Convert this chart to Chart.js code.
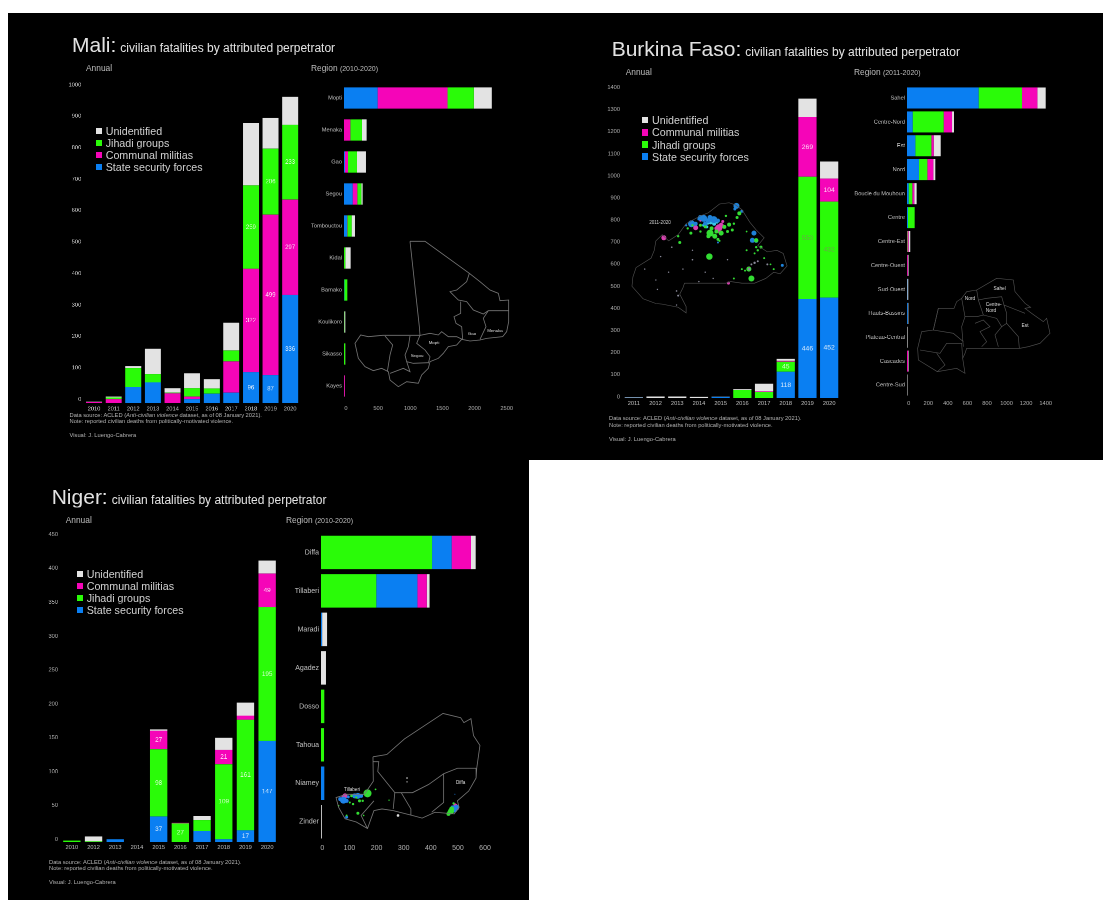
<!DOCTYPE html>
<html lang="en">

<head>
    <meta charset="UTF-8">
    <title>Civilian fatalities by attributed perpetrator</title>
    <script src="https://cdn.jsdelivr.net/npm/chart.js"></script>
    <style>
        html, body { margin: 0; padding: 0; background: #fff; overflow: hidden; }
        #page { position: relative; width: 1103px; height: 900px; font-family: "Liberation Sans", Arial, sans-serif; filter: blur(0.55px); }
        .panel { position: absolute; background: #000; }
        .txt { position: absolute; white-space: nowrap; line-height: 1; transform: translateY(-50%); color: #bdbdbd; will-change: opacity; }
        .box { position: absolute; }
        canvas { position: absolute; }
    </style>
</head>

<body>
    <div id="page">
        <div class="panel" style="left:8px;top:13px;width:1095px;height:447px"></div>
        <div class="panel" style="left:8px;top:460px;width:521px;height:440px"></div>
    </div>

    <script>
        // perpetrators
        const seriesNames = { s: 'State security forces', m: 'Communal militias', j: 'Jihadi groups', u: 'Unidentified' };
        const seriesColors = { s: '#0a7ff2', m: '#f505b8', j: '#2afb08', u: '#e3e3e3' };

        // Mali, annual
        const maliYears = ['2010', '2011', '2012', '2013', '2014', '2015', '2016', '2017', '2018', '2019', '2020'];
        const maliTicks = [0, 100, 200, 300, 400, 500, 600, 700, 800, 900, 1000];
        const maliState = [0, 0, 50, 64, 0, 12, 29, 32, 96, 87, 336];
        const maliCommunal = [3, 12, 0, 0, 30, 8, 0, 97, 322, 499, 297];
        const maliJihadi = [0, 5, 59, 26, 2, 26, 16, 34, 259, 206, 233];
        const maliUnknown = [1, 3, 6, 79, 14, 46, 29, 87, 194, 95, 87];
        // Mali, by region
        const maliRegions = ['Mopti', 'Menaka', 'Gao', 'Segou', 'Tombouctou', 'Kidal', 'Bamako', 'Koulikoro', 'Sikasso', 'Kayes'];
        const maliRegTicks = [0, 500, 1000, 1500, 2000, 2500];
        const maliRegState = [505, 0, 15, 130, 45, 0, 5, 0, 0, 0];
        const maliRegCommunal = [1050, 95, 45, 70, 5, 0, 0, 0, 0, 12];
        const maliRegJihadi = [395, 175, 135, 60, 65, 20, 45, 5, 18, 0];
        const maliRegUnknown = [270, 70, 135, 20, 50, 80, 0, 15, 3, 3];

        // Burkina Faso, annual
        const bfYears = ['2011', '2012', '2013', '2014', '2015', '2016', '2017', '2018', '2019', '2020'];
        const bfTicks = [0, 100, 200, 300, 400, 500, 600, 700, 800, 900, 1000, 1100, 1200, 1300, 1400];
        const bfState = [1, 0, 0, 0, 5, 0, 0, 118, 446, 452];
        const bfJihadi = [0, 0, 0, 0, 0, 36, 27, 45, 550, 432];
        const bfCommunal = [0, 0, 0, 0, 0, 0, 3, 4, 269, 104];
        const bfUnknown = [3, 7, 7, 5, 1, 4, 34, 9, 83, 77];
        // Burkina Faso, by region
        const bfRegions = ['Sahel', 'Centre-Nord', 'Est', 'Nord', 'Boucle du Mouhoun', 'Centre', 'Centre-Est', 'Centre-Ouest', 'Sud-Ouest', 'Hauts-Bassins', 'Plateau-Central', 'Cascades', 'Centre-Sud'];
        const bfRegTicks = [0, 200, 400, 600, 800, 1000, 1200, 1400];
        const bfRegState = [729, 58, 85, 122, 17, 10, 0, 0, 3, 8, 0, 0, 0];
        const bfRegJihadi = [441, 315, 163, 85, 37, 68, 5, 0, 0, 0, 0, 0, 0];
        const bfRegCommunal = [156, 85, 24, 61, 20, 0, 12, 8, 0, 0, 0, 10, 0];
        const bfRegUnknown = [85, 20, 71, 20, 24, 0, 16, 8, 10, 6, 6, 6, 5];

        // Niger, annual
        const nigerYears = ['2010', '2012', '2013', '2014', '2015', '2016', '2017', '2018', '2019', '2020'];
        const nigerTicks = [0, 50, 100, 150, 200, 250, 300, 350, 400, 450];
        const nigerState = [0, 0, 4, 0, 37, 0, 16, 4, 17, 147];
        const nigerJihadi = [2, 1, 0, 0, 98, 27, 16, 109, 161, 195];
        const nigerCommunal = [0, 0, 0, 0, 27, 1, 0, 21, 6, 49];
        const nigerUnknown = [0, 7, 0, 0, 2, 0, 6, 18, 19, 19];
        // Niger, by region
        const nigerRegions = ['Diffa', 'Tillaberi', 'Maradi', 'Agadez', 'Dosso', 'Tahoua', 'Niamey', 'Zinder'];
        const nigerRegTicks = [0, 100, 200, 300, 400, 500, 600];
        const nigerRegState = [71, 149, 4, 0, 0, 0, 12, 0];
        const nigerRegJihadi = [402, 200, 0, 0, 12, 11, 0, 0];
        const nigerRegCommunal = [70, 34, 0, 0, 0, 0, 0, 0];
        const nigerRegUnknown = [17, 10, 18, 18, 0, 0, 0, 3];

        // map outlines, in the map's own units
        const maliOutline = [
            [[300, 544], [345, 544], [478, 640], [510, 665], [540, 690], [565, 700], [570, 722], [596, 720], [596, 785], [590, 815], [578, 830], [530, 835], [510, 840], [480, 843], [455, 838], [440, 855], [415, 860], [400, 880], [385, 895], [360, 905], [355, 925], [335, 945], [325, 970], [290, 965], [265, 980], [240, 960], [235, 935], [215, 925], [190, 932], [165, 920], [145, 895], [135, 850], [152, 825], [175, 830], [218, 826], [330, 826], [328, 800], [300, 544]],
            [[478, 640], [470, 665], [440, 690], [420, 695], [445, 720], [470, 725], [490, 750], [520, 762], [535, 752], [596, 752]],
            [[452, 725], [452, 760], [432, 770], [438, 790], [455, 800], [458, 838]],
            [[535, 752], [520, 775], [528, 800], [510, 838]],
            [[330, 826], [360, 820], [385, 825], [395, 815], [415, 830], [440, 830], [457, 838]],
            [[330, 826], [320, 850], [345, 870], [360, 890], [355, 910]],
            [[300, 828], [295, 860], [285, 885], [290, 905], [310, 910], [355, 908]],
            [[290, 905], [300, 935], [280, 925], [240, 940]],
            [[225, 828], [248, 855], [240, 885], [232, 935]]
        ];
        const bfOutline = [
            [[100, 150], [120, 130], [140, 150], [170, 130], [195, 95], [240, 70], [265, 60], [300, 32], [330, 28], [350, 35], [370, 50], [395, 90], [415, 115], [440, 140], [420, 165], [450, 185], [480, 180], [500, 190], [512, 230], [490, 255], [470, 250], [445, 270], [410, 285], [370, 285], [335, 280], [320, 285], [260, 285], [190, 285], [185, 300], [175, 320], [195, 360], [195, 380], [170, 362], [120, 352], [100, 350], [60, 335], [25, 295], [28, 265], [38, 235], [85, 205], [95, 180], [100, 150]]
        ];
        const bfRegionOutline = [
            [[380, 690], [440, 655], [490, 660], [495, 695], [525, 730], [542, 742], [525, 745], [545, 760], [580, 785], [590, 775], [600, 820], [570, 850], [535, 860], [510, 865], [440, 865], [350, 865], [345, 880], [338, 895], [345, 940], [320, 925], [262, 935], [205, 900], [203, 865], [215, 815], [250, 810], [265, 745], [312, 745], [320, 725], [335, 715], [350, 695], [380, 690]],
            [[380, 690], [385, 720], [410, 715], [455, 710], [462, 735], [500, 750], [525, 760]],
            [[385, 720], [395, 750], [400, 765], [380, 770], [345, 770]],
            [[462, 735], [470, 760], [470, 790], [505, 830], [508, 865]],
            [[335, 715], [345, 770], [335, 800], [340, 860]],
            [[400, 765], [440, 775], [455, 800], [470, 790]],
            [[375, 790], [400, 780], [420, 800], [390, 815], [410, 845], [395, 860]],
            [[455, 800], [435, 825], [445, 860]],
            [[265, 745], [250, 810], [310, 820], [340, 845]],
            [[210, 870], [270, 880], [290, 850], [335, 850], [338, 895]],
            [[260, 880], [285, 915], [262, 935]]
        ];
        const nigerOutline = [
            [[277, 745], [320, 738], [375, 690], [495, 612], [550, 625], [560, 640], [582, 628], [590, 680], [610, 710], [600, 780], [598, 810], [575, 850], [540, 880], [545, 900], [530, 920], [470, 915], [430, 933], [400, 925], [340, 910], [305, 905], [280, 910], [260, 965], [225, 945], [190, 935], [170, 900], [162, 870], [195, 860], [250, 860], [278, 820], [277, 745]],
            [[277, 760], [295, 760], [292, 790], [345, 855], [340, 905]],
            [[345, 855], [365, 855], [400, 855], [450, 830], [497, 797], [540, 780], [598, 780]],
            [[497, 797], [497, 885], [460, 915]],
            [[365, 855], [395, 905], [395, 925]],
            [[280, 880], [240, 925], [260, 965]]
        ];

        // reported events on the maps: x, y, size
        const bfDotsBlue = [[353, 38, 3], [250, 78, 3.5], [265, 85, 2.5], [282, 82, 3.5], [212, 95, 3.5], [408, 125, 2.5], [403, 148, 2.5], [497, 228, 1.5], [370, 55, 1.5], [195, 100, 1.2], [240, 75, 2.5], [295, 85, 2], [225, 95, 2], [270, 75, 2.5], [255, 95, 2.2], [415, 150, 2], [348, 48, 1.5], [295, 155, 1], [235, 80, 1.5]];
        const bfDotsCyan = [[262, 92, 2], [283, 95, 2], [250, 100, 1.5], [272, 90, 2.2], [292, 90, 1.5], [260, 105, 1.5], [405, 150, 1.2]];
        const bfDotsGreen = [[270, 125, 3.5], [305, 125, 2.5], [285, 135, 2.5], [330, 98, 2], [268, 200, 3.2], [400, 270, 3], [392, 240, 2.5], [415, 148, 2.2], [430, 170, 1.5], [362, 62, 2], [210, 125, 1.5], [175, 155, 1.5], [215, 100, 1.2], [340, 115, 1.5], [320, 70, 1.2], [410, 190, 1], [380, 245, 1], [345, 270, 1], [385, 180, 1], [170, 135, 1.2], [300, 150, 1], [440, 205, 1], [470, 240, 1], [240, 120, 1.2], [255, 105, 1.5], [275, 110, 2], [290, 120, 2], [315, 105, 2], [325, 120, 1.5], [265, 135, 2], [295, 145, 1.5], [345, 95, 1.2], [355, 75, 1.5], [240, 100, 1.5], [200, 110, 1.2], [385, 120, 0.9], [420, 180, 1.2], [415, 170, 1.2], [370, 240, 1], [460, 225, 0.9]];
        const bfDotsPink = [[298, 108, 3.5], [225, 108, 2.5], [125, 140, 2.5], [328, 285, 1.5], [310, 88, 1.5], [240, 85, 1.2], [305, 100, 2.5], [290, 110, 2], [300, 122, 1.5], [392, 238, 2]];
        const bfDotsPale = [[410, 220, 1.2], [420, 215, 1], [400, 225, 1], [393, 240, 1.3], [170, 325, 1], [450, 225, 1], [115, 200, 0.7], [100, 275, 0.7], [140, 250, 0.7], [65, 240, 0.7], [215, 210, 0.8], [185, 240, 0.7], [255, 250, 0.7], [280, 270, 0.7], [215, 180, 0.7], [150, 170, 0.8], [325, 210, 0.7], [235, 280, 0.7], [105, 305, 0.7], [165, 355, 0.7], [165, 310, 0.8]];
        const nigerDotsBlue = [[185, 878, 3.5], [230, 865, 3], [195, 930, 1.5], [530, 905, 3.5], [532, 860, 0.5], [538, 900, 2.5], [525, 900, 2], [175, 875, 2], [195, 880, 2], [220, 865, 2.5], [240, 865, 2], [200, 868, 1.5]];
        const nigerDotsGreen = [[260, 857, 4], [210, 865, 1.3], [245, 880, 1.2], [230, 918, 1.5], [215, 890, 1.2], [170, 895, 0.8], [285, 845, 0.9], [248, 925, 0.8], [327, 878, 0.7], [520, 912, 3], [512, 920, 2], [528, 888, 1.2], [522, 905, 2.5], [515, 915, 2], [205, 885, 1], [235, 880, 1.5], [225, 870, 1.2], [195, 925, 1]];
        const nigerDotsPink = [[190, 865, 2.5], [535, 895, 1.8], [532, 892, 1.5], [540, 905, 1.2], [185, 868, 2]];
        const nigerDotsPale = [[383, 810, 0.8], [383, 822, 0.6], [355, 925, 1.3]];

        const page = document.getElementById('page');

        function addText(x, y, text, size, color, extra) {
            const el = document.createElement('div');
            el.className = 'txt';
            el.style.left = x + 'px';
            el.style.top = y + 'px';
            el.style.fontSize = size + 'px';
            if (color) el.style.color = color;
            if (extra) el.style.cssText += extra;
            el.textContent = text;
            page.appendChild(el);
            return el;
        }

        function addCanvas(left, top, width, height) {
            const c = document.createElement('canvas');
            c.style.left = left + 'px';
            c.style.top = top + 'px';
            c.style.width = width + 'px';
            c.style.height = height + 'px';
            c.width = width;
            c.height = height;
            page.appendChild(c);
            return c;
        }

        // labels inside the bar segments
        const segmentLabels = {
            id: 'segmentLabels',
            afterDatasetsDraw(chart, args, opts) {
                if (!opts.size) return;
                const ctx = chart.ctx;
                ctx.save();
                ctx.font = opts.size + 'px "Liberation Sans"';
                ctx.textAlign = 'center';
                ctx.textBaseline = 'middle';
                chart.data.datasets.forEach((ds, i) => {
                    if (ds.key === 'u') return;
                    chart.getDatasetMeta(i).data.forEach((bar, k) => {
                        const v = ds.data[k];
                        if (k < opts.from || v < opts.min) return;
                        ctx.fillStyle = ds.key === 'j' ? opts.green(v) : 'rgba(255,255,255,0.85)';
                        ctx.fillText(v, bar.x, (bar.y + bar.base) / 2);
                    });
                });
                ctx.restore();
            }
        };

        // value at which a pixel falls, given two known value/pixel pairs
        function valueAt(px, a) {
            return a[0] + (px - a[1]) * (a[2] - a[0]) / (a[3] - a[1]);
        }

        function stackChart(o) {
            const padL = 70, padT = 6, padR = 14, axisSize = 14;
            const horizontal = o.horizontal;
            const c = addCanvas(o.left - padL, o.top - padT, o.right - o.left + padL + padR, o.bottom - o.top + padT + axisSize);
            const datasets = o.order.map(([key, data]) => ({
                key: key,
                label: seriesNames[key],
                data: data,
                backgroundColor: seriesColors[key],
                borderWidth: 0,
                barPercentage: o.bar,
                categoryPercentage: 1,
                xAxisID: horizontal ? 'v' : 'c',
                yAxisID: horizontal ? 'c' : 'v'
            }));
            const span = horizontal ? o.right - o.left : o.bottom - o.top;
            const fixWidth = s => { s.width = padL; };
            const fixHeight = s => { s.height = axisSize; };
            const tickFont = { family: 'Liberation Sans', size: o.font };
            const scales = {
                c: {
                    type: 'category',
                    axis: horizontal ? 'y' : 'x',
                    position: horizontal ? 'left' : 'bottom',
                    stacked: true,
                    grid: { display: false, drawTicks: false },
                    border: { display: false },
                    ticks: { color: '#c4c4c4', font: tickFont, autoSkip: false, maxRotation: 0, minRotation: 0, padding: o.catPad },
                    afterFit: horizontal ? fixWidth : fixHeight
                },
                v: {
                    type: 'linear',
                    axis: horizontal ? 'x' : 'y',
                    display: false,
                    stacked: true,
                    min: 0,
                    max: span / o.unit
                },
                l: {
                    type: 'linear',
                    axis: horizontal ? 'x' : 'y',
                    position: horizontal ? 'bottom' : 'left',
                    min: horizontal ? valueAt(o.left, o.labelAt) : valueAt(o.bottom, o.labelAt),
                    max: horizontal ? valueAt(o.right, o.labelAt) : valueAt(o.top, o.labelAt),
                    grid: { display: false, drawTicks: false },
                    border: { display: false },
                    ticks: { color: '#b4b4b4', font: tickFont, autoSkip: false, maxRotation: 0, padding: o.valPad, callback: v => String(v) },
                    afterBuildTicks: s => { s.ticks = o.ticks.map(v => ({ value: v })); },
                    afterFit: horizontal ? fixHeight : fixWidth
                }
            };
            return new Chart(c, {
                type: 'bar',
                data: { labels: o.labels, datasets: datasets },
                options: {
                    indexAxis: horizontal ? 'y' : 'x',
                    responsive: false,
                    animation: false,
                    devicePixelRatio: 2,
                    layout: { padding: { left: 0, right: padR, top: padT, bottom: 0 } },
                    plugins: { legend: { display: false }, tooltip: { enabled: false }, segmentLabels: o.labelsIn || {} },
                    scales: scales
                },
                plugins: [segmentLabels]
            });
        }

        // a map: outlines and dots share one hidden scale
        function mapChart(o) {
            const c = addCanvas(o.left, o.top, o.width, o.height);
            const pts = a => a.map(p => ({ x: p[0], y: p[1] }));
            const datasets = o.lines.map(l => ({
                data: pts(l), showLine: true, pointRadius: 0, borderColor: o.lineColor, borderWidth: o.lineWidth, tension: 0
            }));
            (o.dots || []).forEach(([list, color]) => datasets.push({
                data: pts(list), showLine: false, backgroundColor: color, borderWidth: 0, pointRadius: list.map(p => p[2])
            }));
            return new Chart(c, {
                type: 'scatter',
                data: { datasets: datasets },
                options: {
                    responsive: false,
                    animation: false,
                    devicePixelRatio: 2,
                    layout: { padding: 0 },
                    plugins: { legend: { display: false }, tooltip: { enabled: false } },
                    scales: {
                        x: { display: false, min: 0, max: o.width * 3 },
                        y: { display: false, reverse: true, min: 0, max: o.height * 3 }
                    }
                }
            });
        }

        function furniture(o) {
            const main = addText(o.titleX, o.titleY, o.country + ':', 21, '#e2e2e2');
            const sub = document.createElement('span');
            sub.style.fontSize = '12px';
            sub.style.marginLeft = '4px';
            sub.textContent = 'civilian fatalities by attributed perpetrator';
            main.appendChild(sub);
            addText(o.annualX, o.headY, 'Annual', 8.4);
            const reg = addText(o.regionX, o.headY, 'Region ', 8.4);
            const yrs = document.createElement('span');
            yrs.style.fontSize = '7px';
            yrs.textContent = o.period;
            reg.appendChild(yrs);
            o.legend.forEach((key, i) => {
                const y = o.legendY + i * 12.1;
                const sw = document.createElement('div');
                sw.className = 'box';
                sw.style.cssText = 'left:' + o.legendX + 'px;top:' + (y - 3.2) + 'px;width:6.4px;height:6.4px;background:' + seriesColors[key];
                page.appendChild(sw);
                addText(o.legendX + 10, y, seriesNames[key], 10.7, '#d0d0d0');
            });
            const note = addText(o.noteX, o.noteY, '', 5.75, '#b0b0b0');
            note.innerHTML = 'Data source: ACLED (<i>Anti-civilian violence</i> dataset, as of 08 January 2021).';
            addText(o.noteX, o.noteY + 6.7, 'Note: reported civilian deaths from politically-motivated violence.', 5.75, '#b0b0b0');
            addText(o.noteX, o.noteY + 20.2, 'Visual: J. Luengo-Cabrera', 5.75, '#b0b0b0');
        }

        const paleLabel = () => 'rgba(255,255,255,0.8)';

        // ---- Mali
        furniture({
            country: 'Mali', titleX: 72, titleY: 44, annualX: 86, regionX: 311, headY: 68, period: '(2010-2020)',
            legend: ['u', 'j', 'm', 's'], legendX: 95.7, legendY: 131, noteX: 69.5, noteY: 415.7
        });
        stackChart({
            labels: maliYears, ticks: maliTicks, order: [['s', maliState], ['m', maliCommunal], ['j', maliJihadi], ['u', maliUnknown]],
            left: 84.2, right: 300.1, top: 78, bottom: 402.7, unit: 0.3214, labelAt: [0, 399, 1000, 84.3],
            bar: 0.815, font: 5.7, catPad: 2.5, valPad: 3,
            labelsIn: { size: 6, from: 8, min: 50, green: paleLabel }
        });
        stackChart({
            horizontal: true, labels: maliRegions, ticks: maliRegTicks, order: [['s', maliRegState], ['m', maliRegCommunal], ['j', maliRegJihadi], ['u', maliRegUnknown]],
            left: 343.7, right: 515, top: 82, bottom: 402, unit: 0.0667, labelAt: [0, 345.7, 2500, 506.7],
            bar: 0.667, font: 5.7, catPad: 2, valPad: 3
        });
        mapChart({ left: 310, top: 60, width: 210, height: 360, lines: maliOutline, lineColor: '#777777', lineWidth: 0.8 });
        addText(472, 334, 'Gao', 4.4, '#ddd', 'transform:translate(-50%,-50%)');
        addText(495, 331, 'Menaka', 4.4, '#ddd', 'transform:translate(-50%,-50%)');
        addText(434, 343.3, 'Mopti', 4.4, '#ddd', 'transform:translate(-50%,-50%)');
        addText(417, 356, 'Segou', 4.4, '#ddd', 'transform:translate(-50%,-50%)');

        // ---- Burkina Faso
        furniture({
            country: 'Burkina Faso', titleX: 611.7, titleY: 48.3, annualX: 625.7, regionX: 854, headY: 72.3, period: '(2011-2020)',
            legend: ['u', 'm', 'j', 's'], legendX: 642, legendY: 120.3, noteX: 609, noteY: 419.3
        });
        stackChart({
            labels: bfYears, ticks: bfTicks, order: [['s', bfState], ['j', bfJihadi], ['m', bfCommunal], ['u', bfUnknown]],
            left: 622.8, right: 840, top: 82, bottom: 398.3, unit: 0.2226, labelAt: [0, 397, 1400, 87],
            bar: 0.84, font: 5.7, catPad: 2, valPad: 3,
            labelsIn: { size: 6.8, from: 7, min: 40, green: v => v > 100 ? '#6aa84a' : 'rgba(255,255,255,0.8)' }
        });
        stackChart({
            horizontal: true, labels: bfRegions, ticks: bfRegTicks, order: [['s', bfRegState], ['j', bfRegJihadi], ['m', bfRegCommunal], ['u', bfRegUnknown]],
            left: 907, right: 1060, top: 86, bottom: 396.7, unit: 0.0983, labelAt: [0, 908.7, 1400, 1045.7],
            bar: 0.88, font: 5.7, catPad: 2, valPad: 3
        });
        mapChart({
            left: 620, top: 190, width: 180, height: 130, lines: bfOutline, lineColor: '#555555', lineWidth: 0.6,
            dots: [[bfDotsPale, '#8a8a9a'], [bfDotsGreen, '#33dd33'], [bfDotsBlue, '#1f82d8'], [bfDotsCyan, '#39c6e8'], [bfDotsPink, '#d93fb0']]
        });
        addText(660, 223.3, '2011-2020', 4.6, '#ccc', 'transform:translate(-50%,-50%)');
        mapChart({ left: 850, top: 60, width: 210, height: 360, lines: bfRegionOutline, lineColor: '#555555', lineWidth: 0.6 });
        addText(999.7, 289, 'Sahel', 4.8, '#ddd', 'transform:translate(-50%,-50%)');
        addText(970, 299.3, 'Nord', 4.8, '#ddd', 'transform:translate(-50%,-50%)');
        addText(993.7, 305.3, 'Centre-', 4.8, '#ddd', 'transform:translate(-50%,-50%)');
        addText(991, 311, 'Nord', 4.8, '#ddd', 'transform:translate(-50%,-50%)');
        addText(1025, 325.7, 'Est', 4.8, '#ddd', 'transform:translate(-50%,-50%)');

        // ---- Niger
        furniture({
            country: 'Niger', titleX: 51.7, titleY: 495.7, annualX: 65.7, regionX: 286, headY: 519.7, period: '(2010-2020)',
            legend: ['u', 'm', 'j', 's'], legendX: 76.7, legendY: 573.7, noteX: 49, noteY: 862.7
        });
        stackChart({
            labels: nigerYears, ticks: nigerTicks, order: [['s', nigerState], ['j', nigerJihadi], ['m', nigerCommunal], ['u', nigerUnknown]],
            left: 60.5, right: 277.5, top: 530, bottom: 841.7, unit: 0.687, labelAt: [0, 839, 450, 534],
            bar: 0.8, font: 5.7, catPad: 2, valPad: 3,
            labelsIn: { size: 6.4, from: 0, min: 17, green: paleLabel }
        });
        stackChart({
            horizontal: true, labels: nigerRegions, ticks: nigerRegTicks, order: [['j', nigerRegJihadi], ['s', nigerRegState], ['m', nigerRegCommunal], ['u', nigerRegUnknown]],
            left: 320.7, right: 500, top: 532.75, bottom: 841, unit: 0.2767, labelAt: [0, 322, 600, 485],
            bar: 0.87, font: 7, catPad: 2, valPad: 3
        });
        mapChart({
            left: 280, top: 510, width: 220, height: 360, lines: nigerOutline, lineColor: '#777777', lineWidth: 0.8,
            dots: [[nigerDotsPale, '#dddddd'], [nigerDotsGreen, '#33dd33'], [nigerDotsBlue, '#1f82e8'], [nigerDotsPink, '#d93fb0']]
        });
        addText(352, 790, 'Tillaberi', 4.6, '#ddd', 'transform:translate(-50%,-50%)');
        addText(460.7, 782.7, 'Diffa', 4.6, '#ddd', 'transform:translate(-50%,-50%)');
    </script>
</body>

</html>
